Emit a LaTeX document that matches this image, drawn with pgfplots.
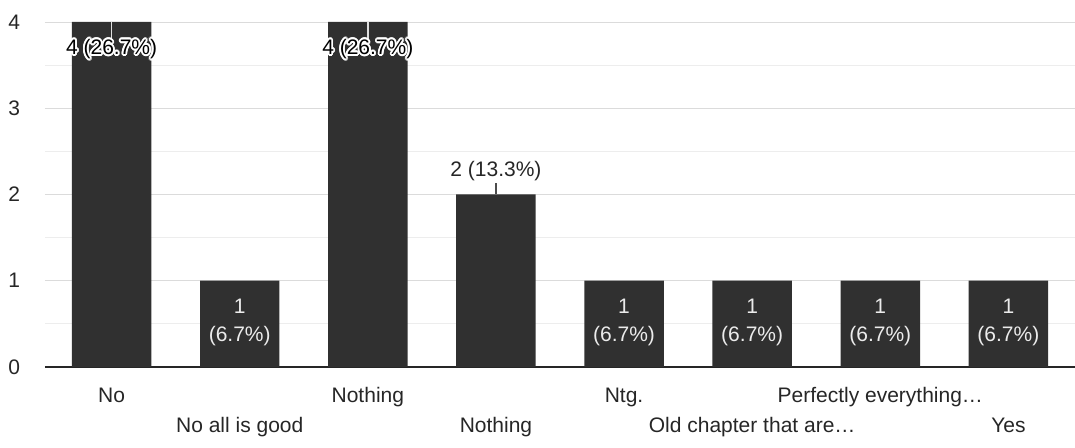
\documentclass[border=0pt]{standalone}
\usepackage{pgfplots}
\pgfplotsset{compat=1.18}
\usepackage{fontspec}
\setmainfont{Liberation Sans}
\usepackage[copies]{contour}
\contourlength{0.9pt}
\definecolor{barc}{HTML}{303030}
\newcommand{\lblfont}{\fontsize{10.5}{15}\selectfont}
\begin{document}
\begin{tikzpicture}
\begin{axis}[
    scale only axis,
    width=515pt, height=179pt,
    xmin=-0.52, xmax=7.52,
    ymin=0, ymax=4.15,
    axis x line*=bottom, axis y line*=left,
    axis line style={-},
    y axis line style={draw=none},
    x axis line style={line width=1.1pt, black!85},
    ytick={0,1,2,3,4},
    minor ytick={0.5,1.5,2.5,3.5},
    ymajorgrids, yminorgrids,
    major grid style={gray!28, line width=0.4pt},
    minor grid style={gray!14, line width=0.4pt},
    major tick length=0, minor tick length=0,
    xtick={0,...,7},
    xticklabels={{\strut No},
                 {\strut\\\strut No all is good},
                 {\strut Nothing},
                 {\strut\\\strut Nothing},
                 {\strut Ntg.},
                 {\strut\\\strut Old chapter that are…},
                 {\strut Perfectly everything…},
                 {\strut\\\strut Yes}},
    tick label style={font=\lblfont, text=black!85},
    xticklabel style={align=center, anchor=north, yshift=-3.7pt},
    yticklabel style={xshift=-9pt},
    /pgf/number format/assume math mode=true,
    clip=false,
]
% counts of answers
\addplot[ybar, bar width=0.62, fill=barc, draw=none] coordinates {
    (0,4) (1,1) (2,4) (3,2) (4,1) (5,1) (6,1) (7,1)
};
% leader lines
\addplot[gray!25, line width=0.7pt] coordinates {(0,4) (0,3.78)};
\addplot[gray!25, line width=0.7pt] coordinates {(2,4) (2,3.78)};
\addplot[gray!60!black, line width=0.6pt] coordinates {(3,2) (3,2.13)};
% value labels
\addplot[draw=none,
    nodes near coords={\contour{white}{4 (26.7\%)}},
    every node near coord/.append style={anchor=center, font=\lblfont, text=black}]
    coordinates {(0,3.675) (2,3.675)};
\addplot[draw=none,
    nodes near coords={2 (13.3\%)},
    every node near coord/.append style={anchor=center, font=\lblfont, text=black!85}]
    coordinates {(3,2.27)};
\addplot[draw=none,
    nodes near coords={\strut 1\\\strut(6.7\%)},
    every node near coord/.append style={anchor=north, align=center,
        font=\fontsize{10.5}{14}\selectfont, text=white!92!black, yshift=-3pt}]
    coordinates {(1,1) (4,1) (5,1) (6,1) (7,1)};
\end{axis}
\pgfresetboundingbox
\path (-22.5pt,-40.5pt) rectangle (515pt,183.5pt);
\end{tikzpicture}
\end{document}
